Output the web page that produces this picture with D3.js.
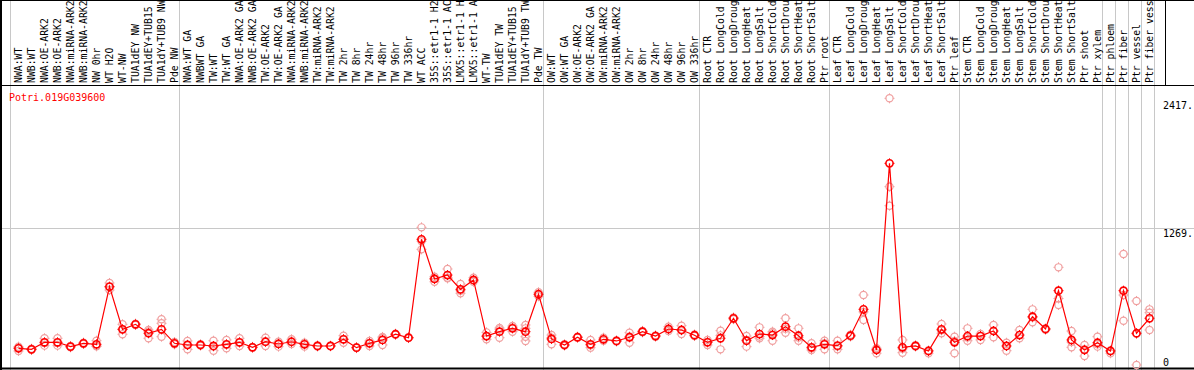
<!DOCTYPE html>
<html><head><meta charset="utf-8">
<script src="https://cdn.jsdelivr.net/npm/d3@7"></script>
<style>
html,body{margin:0;padding:0;background:#fff;}
svg{display:block;}
text{font-family:"DejaVu Sans Mono",monospace;font-size:10px;}
</style></head>
<body>
<svg id="chart" width="1194" height="370"></svg>
<script>
const geneName = "Potri.019G039600";
const categories = [
"NWA:WT","NWB:WT","NWA:OE-ARK2","NWB:OE-ARK2","NWA:miRNA-ARK2","NWB:miRNA-ARK2","NW 0hr","WT H2O","WT-NW","TUA1dEY NW","TUA1dEY+TUB15 NW","TUA1dY+TUB9 NW","Pde NW",
"NWA:WT GA","NWBWT GA","TW:WT","TW:WT GA","NWA:OE-ARK2 GA","NWB:OE-ARK2 GA","TW:OE-ARK2","TW:OE-ARK2 GA","NWA:miRNA-ARK2 GA","NWB:miRNA-ARK2 GA","TW:miRNA-ARK2","TW:miRNA-ARK2 GA","TW 2hr","TW 8hr","TW 24hr","TW 48hr","TW 96hr","TW 336hr","WT ACC","35S::etr1-1 H2O","35S::etr1-1 ACC","LMX5::etr1-1 H2O","LMX5::etr1-1 ACC","WT-TW","TUA1dEY TW","TUA1dEY+TUB15 TW","TUA1dY+TUB9 TW","Pde TW",
"OW:WT","OW:WT GA","OW:OE-ARK2","OW:OE-ARK2 GA","OW:miRNA-ARK2","OW:miRNA-ARK2 GA","OW 2hr","OW 8hr","OW 24hr","OW 48hr","OW 96hr","OW 336hr",
"Root CTR","Root LongCold","Root LongDrought","Root LongHeat","Root LongSalt","Root ShortCold","Root ShortDrought","Root ShortHeat","Root ShortSalt","Ptr root",
"Leaf CTR","Leaf LongCold","Leaf LongDrought","Leaf LongHeat","Leaf LongSalt","Leaf ShortCold","Leaf ShortDrought","Leaf ShortHeat","Leaf ShortSalt","Ptr leaf",
"Stem CTR","Stem LongCold","Stem LongDrought","Stem LongHeat","Stem LongSalt","Stem ShortCold","Stem ShortDrought","Stem ShortHeat","Stem ShortSalt","Ptr shoot","Ptr xylem",
"Ptr phloem","Ptr fiber","Ptr vessel","Ptr fiber vessel"];

const meanValues = [
194,185,248,248,209,239,230,746,364,409,329,364,239,
224,224,215,230,248,203,253,233,253,230,215,215,275,200,239,269,320,289,1170,815,850,722,806,304,343,373,343,678,
278,224,293,230,275,260,293,343,304,367,358,311,
248,284,463,262,322,313,388,307,203,230,
218,307,543,179,1850,203,215,170,364,248,
304,304,349,215,313,477,367,710,269,179,244,
170,710,329,463];

const replicateValues = [
[209,170,200],[180,190],[284,218,242],[284,218,242],[215,203],[245,233],[262,215,212],[779,716,743],[409,320,364],[415,403],[358,284,345],[454,418,298],[250,230],
[260,185,227],[230,218],[262,173,210],[269,194,227],[284,215,245],[207,200],[289,215,255],[253,209,237],[275,233,252],[244,209,237],[220,210],[218,212],[307,244,275],[205,196],[260,215,242],[287,224,296],[325,315],[292,286],[1277,1080,1153],[835,790,820],[904,826,820],[770,687,710],[826,790,802],[337,275,300],[364,289,376],[394,343,382],[403,373,298,260],[696,660],
[313,230,290],[230,218],[298,290],[269,200,222],[289,262],[265,255],[334,244,300],[350,337],[310,298],[388,349,364],[397,322,355],[318,304],
[269,224,250],[352,185,310],[470,455],[304,209,270],[382,284,300],[343,262,330],[463,334,370],[373,262,290],[239,179,195],[262,185,240],
[262,185,210],[315,300],[671,448,520],[150,185,195],[2432,1641,1471],[269,155,190],[222,210],[150,175],[412,329,355],[298,150,260],
[373,262,290],[322,269],[403,293],[244,173],[358,284],[543,427,470],[372,360],[919,582,640],[349,203,250],[224,125,185],[298,209,230],
[150,175],[1038,671,441],[618,45,324],[543,513,358]];

const groupBreaks = [0,13,41,53,63,73,84,85,86,87,88];
const axisTicks = [0,1269,2417];
const axisTickLabels = ["0","1269.","2417."];
const maxLabelChars = 14;

const W = 1194, H = 370, headerH = 85, colW = 13, left = 11;
const svg = d3.select("#chart");

const x = d3.scaleBand().domain(categories).range([left, left + categories.length*colW]).padding(0);
const y = d3.scaleLinear().domain([0, 2417]).range([370, 100]);
const px = d => x(d) + 7.5;

// gridline at 1269
svg.append("line").attr("x1",0).attr("x2",W)
  .attr("y1",Math.round(y(1269))+0.5).attr("y2",Math.round(y(1269))+0.5)
  .attr("stroke","#c8c8c8").attr("stroke-width",1);

// vertical group lines
svg.selectAll(".vline").data(groupBreaks).enter().append("line")
  .attr("x1",k=>left + k*colW - 0.5).attr("x2",k=>left + k*colW - 0.5)
  .attr("y1",0).attr("y2",H)
  .attr("stroke","#c8c8c8").attr("stroke-width",1);

// header labels (truncated like the original display)
const lg = svg.append("g");
lg.selectAll("text").data(categories).enter().append("text")
  .attr("transform",d=>`translate(${x(d)+10.5},83) rotate(-90)`)
  .style("font-size","9.8px")
  .attr("fill","#000").text(d=>d.slice(0,maxLabelChars));

// frame lines
svg.append("line").attr("x1",0).attr("x2",W).attr("y1",0.5).attr("y2",0.5).attr("stroke","#000");
svg.append("line").attr("x1",0).attr("x2",W).attr("y1",headerH+0.5).attr("y2",headerH+0.5).attr("stroke","#000");
svg.append("line").attr("x1",0).attr("x2",W).attr("y1",H-1.5).attr("y2",H-1.5).attr("stroke","#000").attr("stroke-width",2);
svg.append("line").attr("x1",1).attr("x2",1).attr("y1",0).attr("y2",H).attr("stroke","#000").attr("stroke-width",2);
svg.append("line").attr("x1",1165.5).attr("x2",1165.5).attr("y1",0).attr("y2",headerH).attr("stroke","#000");

// gene name
svg.append("text").attr("x",9).attr("y",100.5).attr("fill","#ff0000").text(geneName);

// axis labels
svg.selectAll(".tick").data(axisTicks).enter().append("text")
  .attr("x",1163)
  .attr("y",(d,i)=> i===0 ? 365.5 : y(d)+8.5)
  .attr("fill","#000").text((d,i)=>axisTickLabels[i]);

function marker(g, cx, cy, color, sw){
  g.append("circle").attr("cx",cx).attr("cy",cy).attr("r",3.6).attr("fill","none").attr("stroke",color).attr("stroke-width",sw);
  g.append("path").attr("d",`M${cx},${cy-5}v1.6M${cx},${cy+3.4}v1.6M${cx-5},${cy}h1.6M${cx+3.4},${cy}h1.6`)
    .attr("stroke",color).attr("stroke-width",1);
}

// replicates
const rg = svg.append("g");
categories.forEach((c,i)=>{
  replicateValues[i].forEach(v=> marker(rg, px(c), y(v), "#f0a0a0", 1.2));
});

// mean line
const line = d3.line().x((d,i)=>px(categories[i])).y(d=>y(d));
svg.append("path").datum(meanValues).attr("d",line).attr("fill","none").attr("stroke","#ff0000").attr("stroke-width",1.2);

// mean markers
const mg = svg.append("g");
categories.forEach((c,i)=> marker(mg, px(c), y(meanValues[i]), "#ff0000", 1.6));
</script>
</body></html>
